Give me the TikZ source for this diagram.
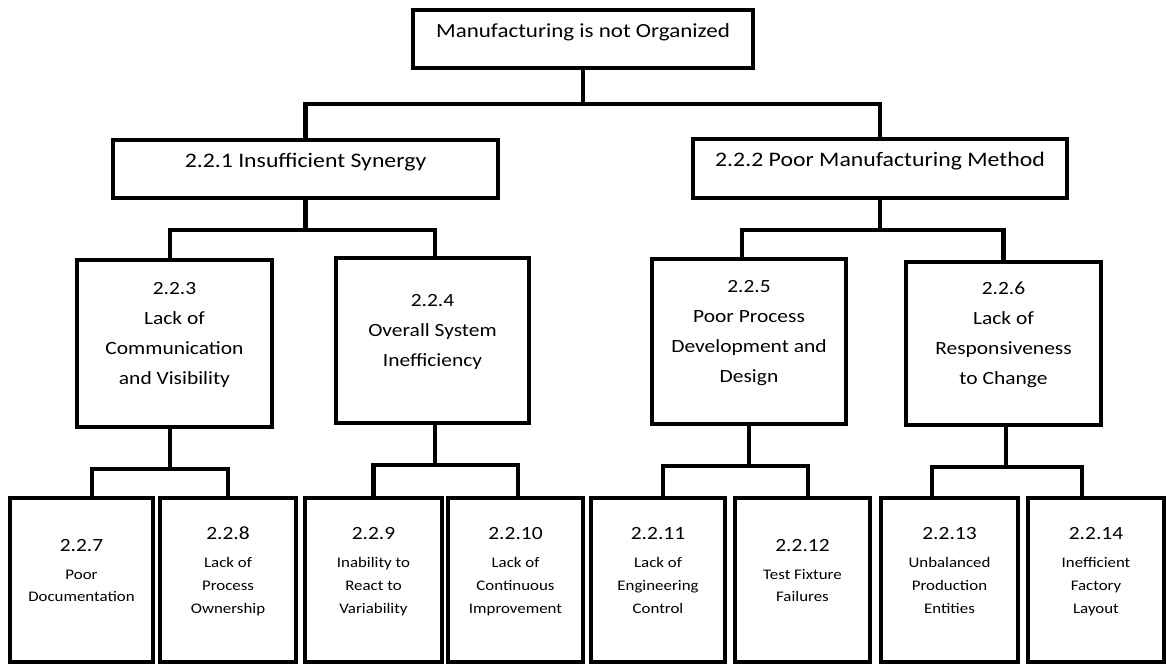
\documentclass[tikz,border=0pt]{standalone}
\usepackage{fontspec}
\setmainfont{Carlito}[FakeStretch=1.15]
\tikzset{
  box/.style={draw,line width=2.6pt,fill=white,inner sep=0pt,align=center},
  boxsize/.style 2 args={minimum width=#1*0.75pt,minimum height=#2*0.75pt},
  link/.style={line width=3.2pt},
}
\newcommand\upshift[2]{\raisebox{#1}[\height][\depth]{\begin{tabular}{@{}c@{}}#2\end{tabular}}}
\newcommand\leaftxt[2]{\upshift{6pt}{{\fontsize{14}{17}\selectfont #1}\\[4pt]#2}}

\begin{document}
\begin{tikzpicture}[x=0.75pt,y=-0.75pt]
\useasboundingbox (0,0) rectangle (1167,664);

\node[box,boxsize={340}{58},font=\fontsize{15}{18}\selectfont] (top) at (583,39)
  {\upshift{5pt}{Manufacturing is not Organized}};

\node[box,boxsize={385}{58},font=\fontsize{15.5}{18}\selectfont] (syn) at (305.5,169)
  {\upshift{5pt}{2.2.1 Insufficient Synergy}};
\node[box,boxsize={374}{59},font=\fontsize{15.5}{18}\selectfont] (meth) at (880,168.5)
  {\upshift{5pt}{2.2.2 Poor Manufacturing Method}};

\node[box,boxsize={195}{167},font=\fontsize{14}{22.5}\selectfont] (comm) at (174.5,343.5)
  {\upshift{7.5pt}{2.2.3\\Lack of\\Communication\\and Visibility}};
\node[box,boxsize={193}{165},font=\fontsize{14}{22.5}\selectfont] (eff) at (432.5,340.5)
  {\upshift{7.5pt}{2.2.4\\Overall System\\Inefficiency}};
\node[box,boxsize={194}{165},font=\fontsize{14}{22.5}\selectfont] (proc) at (749,341.5)
  {\upshift{7.5pt}{2.2.5\\Poor Process\\Development and\\Design}};
\node[box,boxsize={195}{163},font=\fontsize{14}{22.5}\selectfont] (resp) at (1003.5,343.5)
  {\upshift{7.5pt}{2.2.6\\Lack of\\Responsiveness\\to Change}};

\foreach \name/\x/\w/\num/\txt in
    {p7/81.5/143/2.2.7/{Poor\\Documentation},
     p8/228/136/2.2.8/{Lack of\\Process\\Ownership},
     p9/373.5/137/2.2.9/{Inability to\\React to\\Variability},
     p10/515.5/135/2.2.10/{Lack of\\Continuous\\Improvement},
     p11/658/134/2.2.11/{Lack of\\Engineering\\Control},
     p12/802.5/135/2.2.12/{Test Fixture\\Failures},
     p13/949.5/137/2.2.13/{Unbalanced\\Production\\Entities},
     p14/1096/136/2.2.14/{Inefficient\\Factory\\Layout}}
  \node[box,boxsize={\w}{164},font=\fontsize{11}{17}\selectfont] (\name) at (\x,580)
    {\leaftxt{\num}{\txt}};

% tree links
\draw[link] (top.south) -- ++(0,34) -| (syn.north);
\draw[link] (top.south) -- ++(0,34) -| (meth.north);

\draw[link] (syn.south) -- ++(0,30) -| ([xshift=-3.5pt]comm.north);
\draw[link] (syn.south) -- ++(0,30) -| ([xshift=2pt]eff.north);
\draw[link] (meth.south) -- ++(0,30) -| ([xshift=-5pt]proc.north);
\draw[link] (meth.south) -- ++(0,30) -| (resp.north);

\draw[link] ([xshift=-3.5pt]comm.south) -- ++(0,40) -| ([xshift=7.9pt]p7.north);
\draw[link] ([xshift=-3.5pt]comm.south) -- ++(0,40) -| (p8.north);
\draw[link] ([xshift=2pt]eff.south) -- ++(0,40) -| (p9.north);
\draw[link] ([xshift=2pt]eff.south) -- ++(0,40) -| ([xshift=2pt]p10.north);
\draw[link] (proc.south) -- ++(0,40) -| ([xshift=3.8pt]p11.north);
\draw[link] (proc.south) -- ++(0,40) -| ([xshift=4pt]p12.north);
\draw[link] ([xshift=2pt]resp.south) -- ++(0,40) -| ([xshift=-13pt]p13.north);
\draw[link] ([xshift=2pt]resp.south) -- ++(0,40) -| ([xshift=-10.5pt]p14.north);
\end{tikzpicture}
\end{document}
